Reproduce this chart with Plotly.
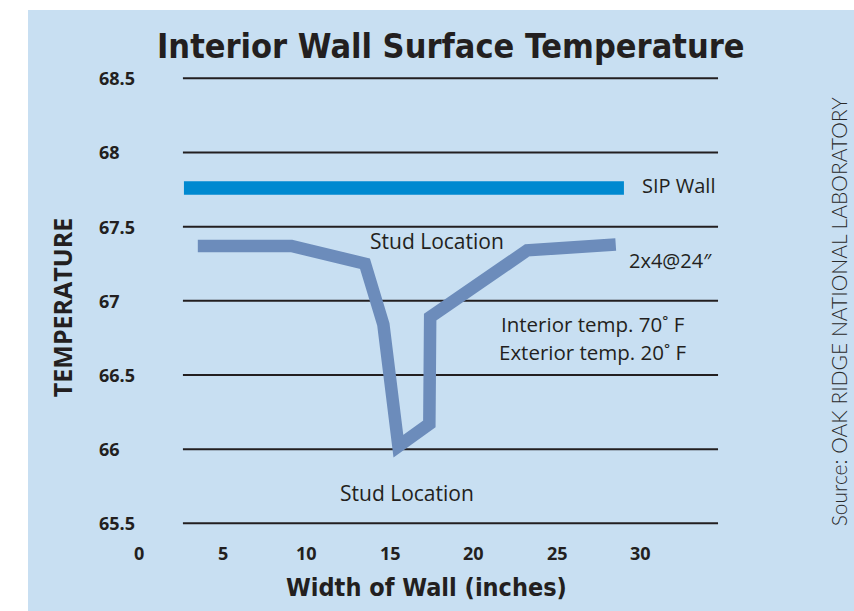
import plotly.graph_objects as go

# ---------------- data ----------------
stud_x = [3.5, 9.1, 13.5, 14.6, 15.5, 17.35, 17.4, 23.2, 28.5]
stud_y = [67.37, 67.37, 67.25, 66.84, 66.02, 66.17, 66.89, 67.34, 67.38]

sip_x = [2.67, 28.99]
sip_y = [67.76, 67.76]

y_ticks = [68.5, 68, 67.5, 67, 66.5, 66, 65.5]
y_tick_labels = ["68.5", "68", "67.5", "67", "66.5", "66", "65.5"]
x_ticks = [0, 5, 10, 15, 20, 25, 30]
x_tick_labels = ["0", "5", "10", "15", "20", "25", "30"]

grid_x_start = 2.61
grid_x_end = 34.62

# ---------------- style ----------------
BG = "#c8dff2"
TXT = "#231f20"
STUD_COLOR = "#6c8cbb"
SIP_COLOR = "#0089d0"
BOLD_FONT = "Open Sans, Noto Sans, DejaVu Sans, sans-serif"
REG_FONT = "Open Sans, Noto Sans, DejaVu Sans, sans-serif"
COND_FONT = "DejaVu Sans Condensed, Liberation Sans Narrow, Arial Narrow, sans-serif"

fig = go.Figure()

fig.add_trace(go.Scatter(
    x=sip_x, y=sip_y, mode="lines",
    line=dict(color=SIP_COLOR, width=13.5),
    hoverinfo="skip", showlegend=False,
))
fig.add_trace(go.Scatter(
    x=stud_x, y=stud_y, mode="lines",
    line=dict(color=STUD_COLOR, width=12.5),
    hoverinfo="skip", showlegend=False,
))

shapes = [
    dict(type="rect", xref="paper", yref="paper",
         x0=28 / 854, x1=1, y0=0, y1=1 - 10 / 611,
         fillcolor=BG, line=dict(width=0), layer="below"),
]
for yv in y_ticks:
    shapes.append(dict(type="line", xref="x", yref="y",
                       x0=grid_x_start, x1=grid_x_end, y0=yv, y1=yv,
                       line=dict(color=TXT, width=2), layer="below"))

annotations = []
for yv, lab in zip(y_ticks, y_tick_labels):
    annotations.append(dict(x=-2.55, y=yv, xref="x", yref="y", text=lab,
                            showarrow=False, xanchor="left", yanchor="middle",
                            font=dict(family=BOLD_FONT, size=18, color=TXT, weight="bold")))
for xv, lab in zip(x_ticks, x_tick_labels):
    annotations.append(dict(x=xv, y=65.302, xref="x", yref="y", text=lab,
                            showarrow=False, xanchor="center", yanchor="middle",
                            font=dict(family=BOLD_FONT, size=18, color=TXT, weight="bold")))

annotations += [
    dict(x=18.65, y=68.718, text="Interior Wall Surface Temperature",
         font=dict(family=COND_FONT, size=34, color=TXT, weight="bold")),
    dict(x=-4.62, y=66.951, text="TEMPERATURE", textangle=-90,
         font=dict(family=BOLD_FONT, size=25, color=TXT, weight="bold")),
    dict(x=17.20, y=65.07, text="Width of Wall (inches)",
         font=dict(family=COND_FONT, size=25, color=TXT, weight="bold")),
    dict(x=41.88, y=66.925, text="Source: OAK RIDGE NATIONAL LABORATORY", textangle=-90,
         font=dict(family="Lato, Open Sans, sans-serif", size=21, color="#2a2a2a", weight=300)),
    dict(x=29.94, y=67.774, text="SIP Wall", xanchor="left",
         font=dict(family=REG_FONT, size=20, color=TXT)),
    dict(x=29.16, y=67.275, text="2x4@24″", xanchor="left",
         font=dict(family=REG_FONT, size=20, color=TXT)),
    dict(x=27.14, y=66.843, text="Interior temp. 70˚ F",
         font=dict(family=REG_FONT, size=20.5, color=TXT)),
    dict(x=27.11, y=66.657, text="Exterior temp. 20˚ F",
         font=dict(family=REG_FONT, size=20.5, color=TXT)),
    dict(x=17.78, y=67.405, text="Stud Location",
         font=dict(family=REG_FONT, size=21, color=TXT)),
    dict(x=16.04, y=65.704, text="Stud Location",
         font=dict(family=REG_FONT, size=21, color=TXT)),
]
for a in annotations:
    a.setdefault("xref", "x")
    a.setdefault("yref", "y")
    a.setdefault("showarrow", False)

fig.update_layout(
    width=854, height=611,
    margin=dict(l=0, r=0, t=0, b=0),
    paper_bgcolor="white", plot_bgcolor="rgba(0,0,0,0)",
    xaxis=dict(range=[-8.333, 42.753], visible=False, fixedrange=True),
    yaxis=dict(range=[64.9087, 69.0279], visible=False, fixedrange=True),
    shapes=shapes, annotations=annotations,
    hovermode=False, showlegend=False,
)

fig.write_html(
    "out.html",
    config={"displayModeBar": False},
    post_script="document.body.style.margin='0';document.body.style.overflow='hidden';",
)
